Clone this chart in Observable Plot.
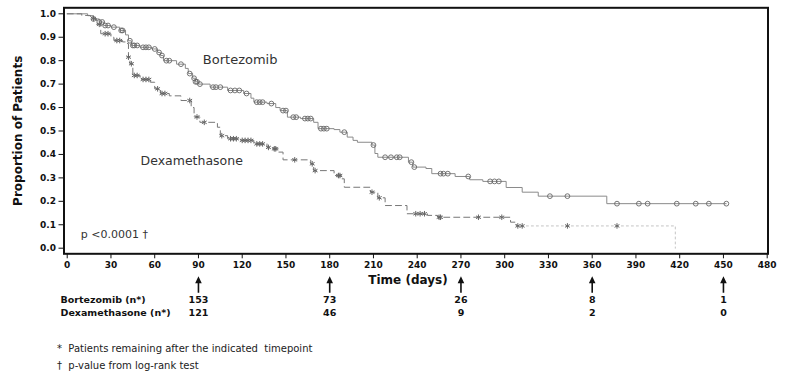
<!DOCTYPE html>
<html>
<head>
<meta charset="utf-8">
<script src="https://cdn.jsdelivr.net/npm/d3@7"></script>
<script src="https://cdn.jsdelivr.net/npm/@observablehq/plot@0.6"></script>
<style>
  html, body { margin: 0; padding: 0; background: #fff; }
  #chart svg { display: block; }
</style>
</head>
<body>
<div id="chart"></div>
<script>
// Kaplan–Meier step curves (day of event, proportion after event)
const bortTime = [0,14,18,22,25,30,36,40,42,44,50,58,62,64,66,75,81,83,86,88,90,98,110,121,126,128,137,143,146,151,160,169,172,183,187,192,196,199,209,211,213,234,237,246,250,266,276,285,301,312,323,370,452];
const bortSurv = [1,0.992,0.978,0.965,0.95,0.943,0.929,0.91,0.885,0.865,0.857,0.85,0.835,0.822,0.80,0.785,0.767,0.745,0.725,0.71,0.70,0.687,0.673,0.66,0.64,0.623,0.617,0.60,0.587,0.559,0.553,0.537,0.51,0.506,0.495,0.474,0.46,0.452,0.44,0.404,0.388,0.367,0.346,0.34,0.318,0.306,0.292,0.285,0.259,0.239,0.222,0.19,0.19];
const dexTime = [0,10,16,20,23,30,32,38,41,42,43,45,50,57,60,64,70,78,85,87,91,103,105,110,119,128,137,141,145,148,167,169,183,188,190,208,213,218,233,247,254,304,308];
const dexSurv = [1,0.993,0.98,0.955,0.915,0.9,0.886,0.88,0.873,0.815,0.787,0.737,0.72,0.708,0.68,0.66,0.65,0.63,0.60,0.56,0.537,0.516,0.48,0.467,0.46,0.445,0.43,0.424,0.41,0.377,0.36,0.331,0.31,0.296,0.26,0.239,0.215,0.182,0.147,0.14,0.132,0.111,0.095];
// faint tail of the dexamethasone curve
const dexTailTime = [308,417,417];
const dexTailSurv = [0.095,0.095,0];

// censoring times
const bortCensored = [18,22,24,26,28,32,37,38,43,45,46,48,52,54,56,60,63,65,68,70,78,84,87,88,89,91,100,102,105,112,115,118,123,130,132,134,140,148,150,155,157,163,165,167,174,176,178,190,210,218,222,226,228,236,238,256,258,261,275,290,293,296,331,343,377,392,398,418,431,440,452];
const dexCensored = [18,22,26,28,34,36,42,44,46,48,52,54,56,62,65,67,84,89,94,106,112,114,116,120,122,124,126,130,132,134,138,142,143,156,168,170,186,187,209,214,239,242,245,255,256,282,298,309,312,343,377];

// axis ticks
const xTicks = d3.range(0, 481, 30);
const yTicks = [0,0.1,0.2,0.3,0.4,0.5,0.6,0.7,0.8,0.9,1.0];

// number-at-risk table
const riskDays = [90,180,270,360,450];
const riskBort = [153,73,26,8,1];
const riskDex = [121,46,9,2,0];

// annotations
const curveLabels = [
  {x: 93, y: 0.805, text: "Bortezomib", size: 13},
  {x: 50.3, y: 0.371, text: "Dexamethasone", size: 12.5},
  {x: 9.3, y: 0.058, text: "p <0.0001 †", size: 11}
];
const footnote1 = "*  Patients remaining after the indicated  timepoint";
const footnote2 = "†  p-value from log-rank test";

const bort = bortTime.map((t, i) => ({t, s: bortSurv[i]}));
const dex = dexTime.map((t, i) => ({t, s: dexSurv[i]}));
const dexTail = dexTailTime.map((t, i) => ({t, s: dexTailSurv[i]}));
const stepAt = (curve, t) => { let v = curve[0].s; for (const p of curve) { if (p.t <= t) v = p.s; else break; } return v; };

const arrowSymbol = {
  draw(ctx) {
    ctx.moveTo(0, -8.5); ctx.lineTo(3.3, -1.5); ctx.lineTo(0.8, -1.5); ctx.lineTo(0.8, 8);
    ctx.lineTo(-0.8, 8); ctx.lineTo(-0.8, -1.5); ctx.lineTo(-3.3, -1.5); ctx.closePath();
  }
};

const chart = Plot.plot({
  width: 792,
  height: 381,
  marginLeft: 63.5,
  marginRight: 24.5,
  marginTop: 7.3,
  marginBottom: 127.7,
  style: {fontFamily: "'DejaVu Sans', sans-serif", fontSize: "9px", fontWeight: "bold", color: "#111", background: "#fff", overflow: "visible"},
  x: {domain: [-2.2, 480.55], ticks: xTicks, tickFormat: d => String(d), tickSize: 5, tickPadding: 3, label: null},
  y: {domain: [-0.0239, 1.0256], ticks: yTicks, tickFormat: d => d.toFixed(1), tickSize: 5, tickPadding: 3, label: null},
  marks: [
    Plot.line(bort, {x: "t", y: "s", curve: "step-after", stroke: "#8a8a8a", strokeWidth: 1}),
    Plot.line(dex, {x: "t", y: "s", curve: "step-after", stroke: "#777", strokeWidth: 1, strokeDasharray: "6,4"}),
    Plot.line(dexTail, {x: "t", y: "s", curve: "step-after", stroke: "#c4c4c4", strokeWidth: 1, strokeDasharray: "2,3"}),
    Plot.dot(bortCensored, {x: d => d, y: d => stepAt(bort, d), symbol: "circle", r: 2.4, stroke: "#666", strokeWidth: 0.9, fill: "none"}),
    Plot.dot(dexCensored, {x: d => d, y: d => stepAt(dex, d), symbol: "asterisk", r: 2.6, stroke: "#666", strokeWidth: 1}),
    Plot.frame({stroke: "#111", strokeWidth: 2}),
    Plot.text(curveLabels, {x: "x", y: "y", text: "text", fontSize: "size", textAnchor: "start", fontWeight: "normal", fill: "#333"}),
    // axis titles
    Plot.text(["Proportion of Patients"], {frameAnchor: "left", textAnchor: "middle", rotate: -90, dx: -46, fontSize: 12, fontWeight: "bold", fill: "#111"}),
    Plot.text(["Time (days)"], {frameAnchor: "bottom", textAnchor: "middle", dx: -8, dy: 30, fontSize: 12, fontWeight: "bold", fill: "#111"}),
    // arrows at timepoints
    Plot.dot(riskDays, {x: d => d, frameAnchor: "bottom", dy: 31, symbol: arrowSymbol, fill: "#111", stroke: "none"}),
    // risk table
    Plot.text(["Bortezomib (n*)"], {frameAnchor: "bottom-left", dx: -3.5, dy: 49.4, textAnchor: "start", fontSize: 9.5, fill: "#111"}),
    Plot.text(["Dexamethasone (n*)"], {frameAnchor: "bottom-left", dx: -3.5, dy: 62.4, textAnchor: "start", fontSize: 9.5, fill: "#111"}),
    Plot.text(riskDays, {x: d => d, text: (d, i) => String(riskBort[i]), frameAnchor: "bottom", dy: 49.4, fontSize: 9.5, fill: "#111"}),
    Plot.text(riskDays, {x: d => d, text: (d, i) => String(riskDex[i]), frameAnchor: "bottom", dy: 62.4, fontSize: 9.5, fill: "#111"}),
    // footnotes
    Plot.text([footnote1], {frameAnchor: "bottom-left", dx: -7, dy: 97.7, textAnchor: "start", fontSize: 10, fontWeight: "normal", fill: "#222"}),
    Plot.text([footnote2], {frameAnchor: "bottom-left", dx: -7, dy: 114.7, textAnchor: "start", fontSize: 10, fontWeight: "normal", fill: "#222"})
  ]
});
document.getElementById("chart").appendChild(chart);
</script>
</body>
</html>
